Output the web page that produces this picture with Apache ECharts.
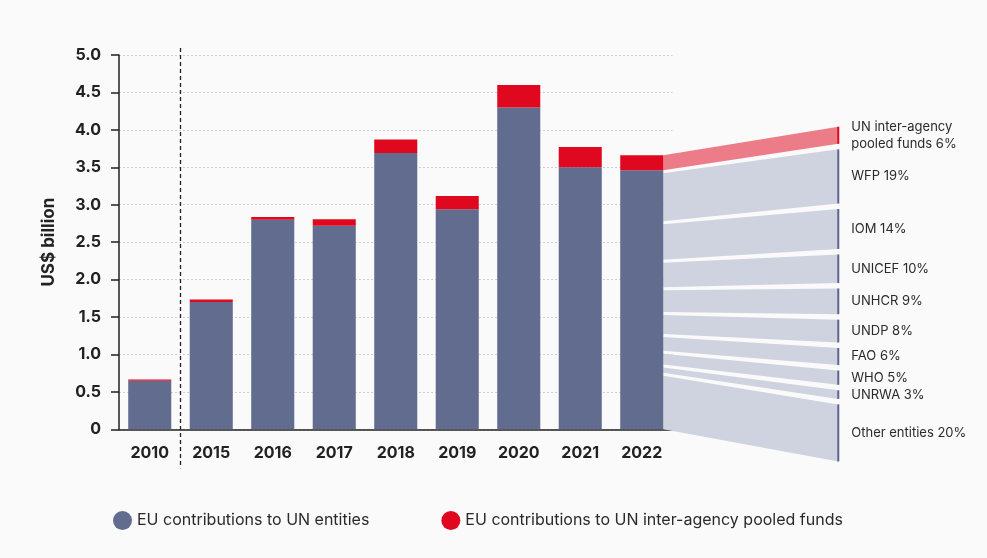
<!DOCTYPE html>
<html>
<head>
<meta charset="utf-8">
<script src="https://cdn.jsdelivr.net/npm/echarts@6/dist/echarts.min.js"></script>
<style>
html,body{margin:0;padding:0;background:#fafafa;}
#main{width:987px;height:558px;}
</style>
</head>
<body>
<div id="main"></div>
<script>
// ---- data ----
var years = ['2010','2015','2016','2017','2018','2019','2020','2021','2022'];
var unEntities = [0.65, 1.70, 2.80, 2.72, 3.69, 2.94, 4.30, 3.50, 3.46];
var pooledFunds = [0.015, 0.035, 0.035, 0.085, 0.18, 0.175, 0.30, 0.27, 0.20];
var yTicks = ['0','0.5','1.0','1.5','2.0','2.5','3.0','3.5','4.0','4.5','5.0'];
var breakdownNames = ['UN inter-agency\npooled funds', 'WFP', 'IOM', 'UNICEF', 'UNHCR', 'UNDP', 'FAO', 'WHO', 'UNRWA', 'Other entities'];
var breakdownShares = [6, 19, 14, 10, 9, 8, 6, 5, 3, 20];

var FONT = 'Inter, "Noto Sans", sans-serif';
var BLUE = '#626c8e', RED = '#e0081f';
var last = years.length - 1;

function fanItem(params, api) {
  var idx = api.value(1);
  var total = unEntities[last] + pooledFunds[last];
  var entShareSum = 0;
  for (var k = 1; k < breakdownShares.length; k++) entShareSum += breakdownShares[k];
  var lTop, lBot;
  if (idx === 0) { lTop = total; lBot = unEntities[last]; }
  else {
    var cum = 0;
    for (var k = 1; k < idx; k++) cum += breakdownShares[k];
    lTop = unEntities[last] * (1 - cum / entShareSum);
    lBot = unEntities[last] * (1 - (cum + breakdownShares[idx]) / entShareSum);
  }
  var pTop = api.coord([last, total]);
  var pBase = api.coord([last, 0]);
  var half = api.size([1, 0])[0] * 0.35;
  var xL = pTop[0] + half;
  var xR = xL + 175;
  var barPx = pBase[1] - pTop[1];
  var pxPerPct = barPx * 1.041 / 100;
  var gapR = 5.5, gapL = 3;
  var cumPct = 0;
  for (var k = 0; k < idx; k++) cumPct += breakdownShares[k];
  var rightTop0 = pTop[1] - 28.6;
  var rT = rightTop0 + cumPct * pxPerPct + idx * gapR;
  var rB = rT + breakdownShares[idx] * pxPerPct;
  var yLT = api.coord([last, lTop])[1] + (idx <= 1 ? (idx === 1 ? gapL : 0) : gapL / 2);
  var yLB = api.coord([last, lBot])[1] - (idx === breakdownShares.length - 1 || idx === 0 ? 0 : gapL / 2);
  var isPooled = idx === 0;
  var label = breakdownNames[idx] + ' ' + breakdownShares[idx] + '%';
  return {
    type: 'group',
    children: [
      { type: 'polygon', shape: { points: [[xL, yLT], [xR, rT], [xR, rB], [xL, yLB]] },
        style: { fill: isPooled ? '#ec7d88' : '#cfd3df' } },
      { type: 'line', shape: { x1: xR, y1: rT, x2: xR, y2: rB },
        style: { stroke: isPooled ? RED : '#5b6590', lineWidth: 2 } },
      { type: 'text', x: xR + 13, y: (rT + rB) / 2,
        style: { text: label, fill: '#2a2a2a', font: '13px ' + FONT, verticalAlign: 'middle', align: 'left', lineHeight: 17 } }
    ]
  };
}

function dividerItem(params, api) {
  var p0 = api.coord([0, 0]);
  var p5 = api.coord([0, 5]);
  var x = p0[0] + api.size([1, 0])[0] / 2;
  return { type: 'line', shape: { x1: x, y1: p5[1] - 7, x2: x, y2: p0[1] + 39 },
    style: { stroke: '#222', lineWidth: 1.3, lineDash: [4, 3] } };
}

var chart = echarts.init(document.getElementById('main'));
chart.setOption({
  backgroundColor: '#fafafa',
  animation: false,
  grid: { left: 119, right: 314.5, top: 55, bottom: 128.7 },
  legend: {
    left: 108, top: 506, itemWidth: 19, itemHeight: 19, itemGap: 72, icon: 'circle',
    textStyle: { fontFamily: FONT, fontSize: 16, color: '#2a2a2a', padding: [0, 0, 0, 0] },
    data: ['EU contributions to UN entities', 'EU contributions to UN inter-agency pooled funds']
  },
  xAxis: {
    type: 'category', data: years,
    axisLine: { lineStyle: { color: '#222', width: 1.5 } },
    axisTick: { show: false },
    axisLabel: { fontFamily: FONT, fontSize: 16, fontWeight: 'bold', color: '#222', margin: 16 }
  },
  yAxis: {
    type: 'value', min: 0, max: 5, interval: 0.5,
    name: 'US$ billion', nameLocation: 'middle', nameGap: 62, nameRotate: 90,
    nameTextStyle: { fontFamily: FONT, fontSize: 17, fontWeight: 'bold', color: '#222' },
    axisLine: { show: true, lineStyle: { color: '#222', width: 1.5 } },
    axisTick: { show: true, length: 8, lineStyle: { color: '#222', width: 1.5 } },
    axisLabel: { fontFamily: FONT, fontSize: 16, fontWeight: 'bold', color: '#222', margin: 18,
      formatter: function (v) { return yTicks[Math.round(v * 2)]; } },
    splitLine: { lineStyle: { color: '#cfcfcf', type: [2, 2] } }
  },
  series: [
    { name: 'EU contributions to UN entities', type: 'bar', stack: 'a', data: unEntities,
      barWidth: '70%', itemStyle: { color: BLUE } },
    { name: 'EU contributions to UN inter-agency pooled funds', type: 'bar', stack: 'a', data: pooledFunds,
      barWidth: '70%', itemStyle: { color: RED } },
    { type: 'custom', renderItem: fanItem, clip: false, silent: true, z: 1,
      data: breakdownShares.map(function (s, i) { return [last, i]; }) },
    { type: 'custom', renderItem: dividerItem, clip: false, silent: true,
      data: [[0, 0]] }
  ]
});
</script>
</body>
</html>
